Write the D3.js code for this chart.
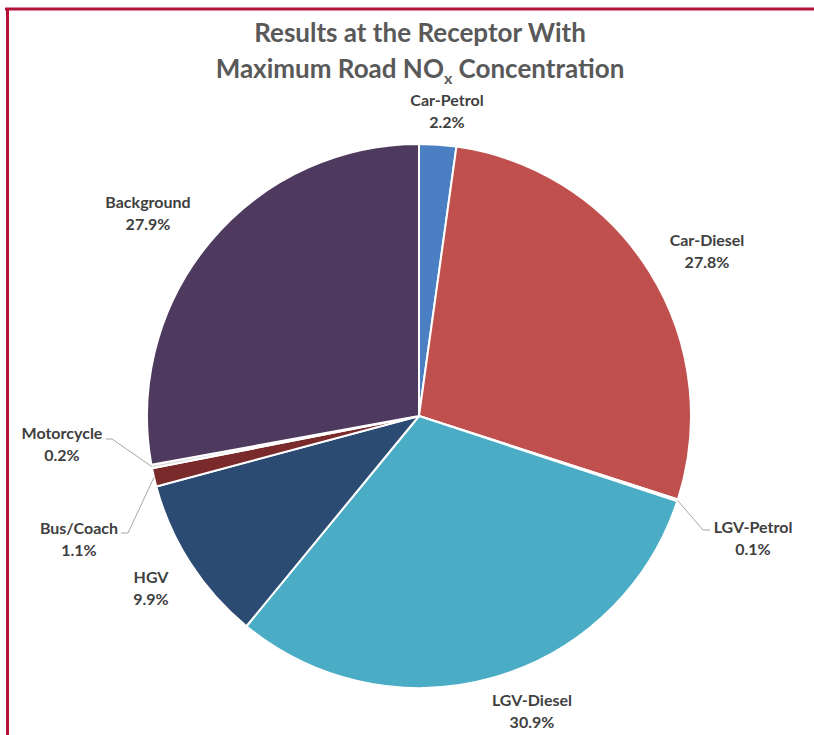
<!DOCTYPE html>
<html>
<head>
<meta charset="utf-8">
<script src="https://cdn.jsdelivr.net/npm/d3@7"></script>
<style>
  html, body { margin: 0; padding: 0; background: #fff; }
  svg { display: block; }
</style>
</head>
<body>
<svg id="chart" width="814" height="735"></svg>
<script>
// Source categories and their shares (%)
const categories = ["Car-Petrol", "Car-Diesel", "LGV-Petrol", "LGV-Diesel", "HGV", "Bus/Coach", "Motorcycle", "Background"];
const shares = [2.2, 27.8, 0.1, 30.9, 9.9, 1.1, 0.2, 27.9];
const sliceColors = ["#4a7fc4", "#c0504d", "#9bbb59", "#4bacc6", "#2b4b73", "#7a2a2a", "#d8d8d8", "#4e3a5f"];
const titleLines = ["Results at the Receptor With", "Maximum Road NO"];

// Label placement (centre x and baseline y of the name line; leader elbow if any)
const labelLayout = {
  "Car-Petrol":  { x: 447, y: 106 },
  "Car-Diesel":  { x: 707, y: 246 },
  "LGV-Petrol":  { x: 753, y: 533, elbow: [703, 530], end: [710, 530] },
  "LGV-Diesel":  { x: 532, y: 706 },
  "HGV":         { x: 151, y: 583 },
  "Bus/Coach":   { x: 79,  y: 534, elbow: [128, 533], end: [121, 533] },
  "Motorcycle":  { x: 62,  y: 439, elbow: [112, 439], end: [106, 439] },
  "Background":  { x: 148, y: 208 }
};

const svg = d3.select("#chart");
const W = 814, H = 735;
const cx = 419, cy = 416, R = 272;

// Frame
svg.append("line").attr("x1", 5).attr("x2", W).attr("y1", 9).attr("y2", 9)
  .attr("stroke", "#b5123a").attr("stroke-width", 3);
svg.append("line").attr("x1", 7.5).attr("x2", 7.5).attr("y1", 8).attr("y2", H)
  .attr("stroke", "#b5123a").attr("stroke-width", 3);

// Title
const tx = 420;
const title = svg.append("text")
  .attr("text-anchor", "middle")
  .attr("font-family", "Lato, 'Open Sans', sans-serif")
  .attr("font-weight", 700).attr("font-size", 26).attr("fill", "#595959");
title.append("tspan").attr("x", tx).attr("y", 42).text(titleLines[0]);
title.append("tspan").attr("x", tx).attr("y", 78).text(titleLines[1]);
title.append("tspan").attr("font-size", 16).attr("dy", 6).text("x");
title.append("tspan").attr("dy", -6).text(" Concentration");

const data = categories.map((c, i) => ({ name: c, value: shares[i], color: sliceColors[i] }));

const pie = d3.pie().sort(null).value(d => d.value);
const arc = d3.arc().innerRadius(0).outerRadius(R);
const edge = d3.arc().innerRadius(R).outerRadius(R);

const g = svg.append("g").attr("transform", `translate(${cx},${cy})`);
const arcs = pie(data);

g.selectAll("path.slice").data(arcs).join("path")
  .attr("class", "slice")
  .attr("d", arc)
  .attr("fill", d => d.data.color)
  .attr("stroke", "#fff")
  .attr("stroke-width", 2)
  .attr("stroke-linejoin", "round");

// Leader lines for the thin slices
arcs.forEach(a => {
  const L = labelLayout[a.data.name];
  if (!L.elbow) return;
  const [ex, ey] = edge.centroid(a);
  svg.append("polyline")
    .attr("points", [[cx + ex, cy + ey], L.elbow, L.end].map(p => p.join(",")).join(" "))
    .attr("fill", "none").attr("stroke", "#a6a6a6").attr("stroke-width", 1);
});

// Labels
const labels = svg.append("g")
  .attr("font-family", "Lato, 'Open Sans', sans-serif")
  .attr("font-weight", 700).attr("font-size", 16).attr("fill", "#404040")
  .attr("text-anchor", "middle");

arcs.forEach(a => {
  const L = labelLayout[a.data.name];
  const t = labels.append("text").attr("x", L.x).attr("y", L.y);
  t.append("tspan").attr("x", L.x).text(a.data.name);
  t.append("tspan").attr("x", L.x).attr("dy", 22).text(a.data.value.toFixed(1) + "%");
});
</script>
</body>
</html>
